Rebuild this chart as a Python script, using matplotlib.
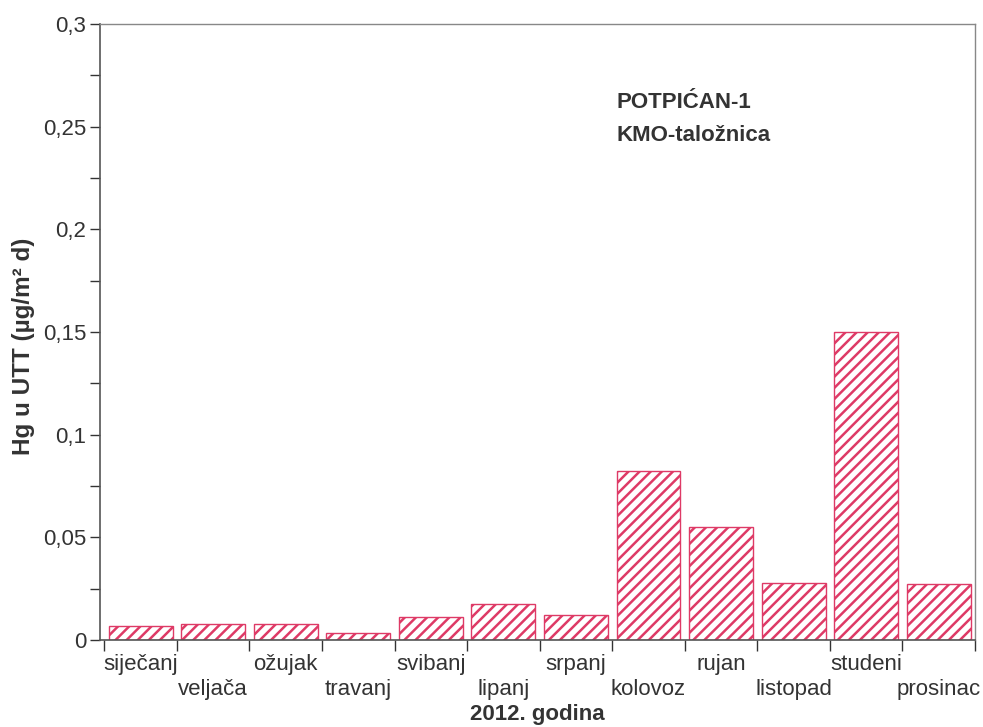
import matplotlib
matplotlib.use("Agg")
import matplotlib.pyplot as plt
from matplotlib.ticker import MultipleLocator, FixedLocator, FuncFormatter

plt.rcParams['font.family'] = ['Liberation Sans', 'DejaVu Sans']
plt.rcParams['hatch.linewidth'] = 1.8

# data
months = ['siječanj', 'veljača', 'ožujak', 'travanj', 'svibanj', 'lipanj',
          'srpanj', 'kolovoz', 'rujan', 'listopad', 'studeni', 'prosinac']
hg_values = [0.0070, 0.0080, 0.0077, 0.0033, 0.0111, 0.0173,
             0.0122, 0.0825, 0.0552, 0.0278, 0.1500, 0.0272]

bar_color = '#de3a66'
text_color = '#333333'

fig = plt.figure(figsize=(9.83, 7.27), dpi=100)
ax = fig.add_axes([100 / 983, 1 - 640 / 727, 875 / 983, 616 / 727])

x = list(range(len(months)))
ax.bar(x, hg_values, width=0.88, facecolor='white', edgecolor=bar_color,
       hatch='///', linewidth=1.0)

ax.set_xlim(-0.56, 11.5)
ax.set_ylim(0, 0.3)

# y axis
ax.yaxis.set_major_locator(MultipleLocator(0.05))
ax.yaxis.set_minor_locator(MultipleLocator(0.025))
ax.yaxis.set_major_formatter(FuncFormatter(
    lambda v, p: '0' if abs(v) < 1e-9 else ('%g' % round(v, 3)).replace('.', ',')))
ax.tick_params(axis='y', which='major', direction='out', length=7, width=1,
               labelsize=16, colors=text_color, pad=3)
ax.tick_params(axis='y', which='minor', direction='out', length=7, width=1,
               colors=text_color)

# x axis: ticks at category boundaries, labels staggered on two lines
ax.xaxis.set_major_locator(FixedLocator([i + 0.5 for i in range(-1, 12)]))
ax.xaxis.set_major_formatter(FuncFormatter(lambda v, p: ''))
ax.xaxis.set_minor_locator(FixedLocator(x))
ax.set_xticklabels([m if i % 2 == 0 else '\n' + m for i, m in enumerate(months)],
                   minor=True)
ax.tick_params(axis='x', which='major', direction='out', length=8, width=1,
               colors=text_color)
ax.tick_params(axis='x', which='minor', length=0, labelsize=16,
               labelcolor=text_color, pad=10)
for lbl in ax.get_xticklabels(minor=True):
    lbl.set_linespacing(1.25)

ax.set_xlabel('2012. godina', fontsize=16, fontweight='bold', color=text_color,
              labelpad=3)
ax.set_ylabel('Hg u UTT (µg/m² d)', fontsize=17.5, fontweight='bold',
              color=text_color)
ax.yaxis.set_label_coords(-0.074, 0.477)

for side in ['left', 'bottom']:
    ax.spines[side].set_color('#555555')
    ax.spines[side].set_linewidth(1.2)
for side in ['top', 'right']:
    ax.spines[side].set_color('#888888')
    ax.spines[side].set_linewidth(1.0)

ax.text(0.59, 0.89, 'POTPIĆAN-1\nKMO-taložnica', transform=ax.transAxes,
        fontsize=16, fontweight='bold', color=text_color, va='top', ha='left',
        linespacing=1.75)

fig.savefig('out.png', dpi=100)
